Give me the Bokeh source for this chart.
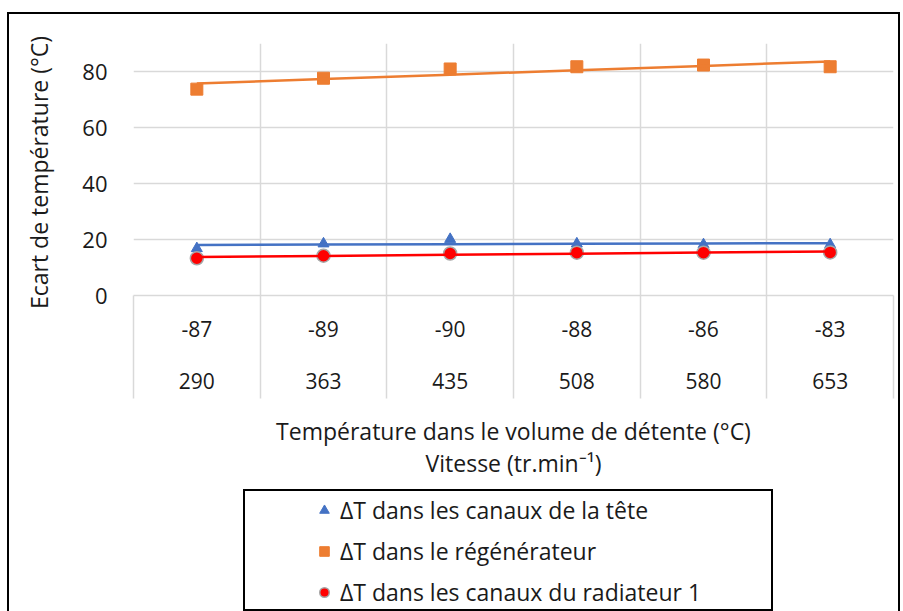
import numpy as np
from bokeh.plotting import figure
from bokeh.layouts import column
from bokeh.models import (Range1d, FixedTicker, LinearAxis, Legend,
                          LegendItem, ColumnDataSource)
from bokeh.embed import file_html
from bokeh.resources import INLINE

# ---- data -------------------------------------------------------------
speeds = ["290", "363", "435", "508", "580", "653"]          # Vitesse (tr.min-1)
temps = ["-87", "-89", "-90", "-88", "-86", "-83"]            # Température volume de détente
dt_tete = [16.8, 18.5, 20.1, 18.5, 18.2, 18.2]
dt_regen = [73.7, 77.6, 80.9, 81.7, 82.3, 81.7]
dt_radiateur = [13.3, 14.2, 15.0, 15.3, 15.3, 15.4]
y_ticks = [0, 20, 40, 60, 80]
y_max = 90
names = ["ΔT dans les canaux de la tête",
         "ΔT dans le régénérateur",
         "ΔT dans les canaux du radiateur 1"]
y_title = "Ecart de température  (°C)"
x_title_1 = "Température dans le volume de détente (°C)"
x_title_2 = "Vitesse (tr.min⁻¹)"

# ---- style --------------------------------------------------------------
FONT = "Open Sans"
TXT = "#1a1a1a"
GRID = "#d9d9d9"
BLUE, ORANGE, RED = "#4472C4", "#ED7D31", "#FF0000"
MARK = {"tete": dict(marker="triangle", size=11, fill_color=BLUE, line_color=BLUE),
        "regen": dict(marker="square", size=12, fill_color=ORANGE, line_color=ORANGE),
        "rad": dict(marker="circle", size=13, fill_color=RED, line_color="#a6a6a6",
                    line_width=1.5)}

n = len(speeds)
idx = np.arange(n)
xs = idx + 0.5
bounds = list(range(n + 1))
src = ColumnDataSource(dict(x=xs, tete=dt_tete, regen=dt_regen, rad=dt_radiateur))

# ================= main chart =================
p = figure(width=903, height=482, output_backend="svg", toolbar_location=None,
           x_range=Range1d(0, n), y_range=Range1d(0, y_max),
           min_border_left=133, min_border_right=10, min_border_top=43,
           min_border_bottom=187)
p.outline_line_color = None
p.background_fill_color = "white"
p.border_fill_alpha = 0

p.xgrid.ticker = FixedTicker(ticks=bounds)
p.ygrid.ticker = FixedTicker(ticks=y_ticks)
for g in (p.xgrid[0], p.ygrid[0]):
    g.grid_line_color = GRID
    g.grid_line_width = 1.5

ya = p.yaxis[0]
ya.ticker = FixedTicker(ticks=y_ticks)
ya.axis_line_color = None
ya.major_tick_line_color = None
ya.minor_tick_line_color = None
ya.major_tick_out = 0
ya.major_label_standoff = 26
ya.major_label_text_font = FONT
ya.major_label_text_font_size = "22px"
ya.major_label_text_color = TXT
ya.axis_label = y_title
ya.axis_label_text_font = FONT
ya.axis_label_text_font_size = "23px"
ya.axis_label_text_font_style = "normal"
ya.axis_label_text_color = TXT
ya.axis_label_standoff = 24

# x axis row 1 (temperatures) with category separators as minor ticks
xa = p.xaxis[0]
xa.ticker = FixedTicker(ticks=list(xs), minor_ticks=bounds)
xa.major_label_overrides = {float(x): t for x, t in zip(xs, temps)}
xa.axis_line_color = GRID
xa.axis_line_width = 1.5
xa.major_tick_line_color = None
xa.major_tick_out = 0
xa.major_tick_in = 0
xa.minor_tick_out = 103
xa.minor_tick_in = 0
xa.minor_tick_line_color = GRID
xa.minor_tick_line_width = 1.5
xa.major_label_standoff = -78
xa.major_label_text_font = FONT
xa.major_label_text_font_size = "21px"
xa.major_label_text_color = TXT

# x axis row 2 (speeds) + two-line axis title
xa2 = LinearAxis(ticker=FixedTicker(ticks=list(xs)))
xa2.major_label_overrides = {float(x): s for x, s in zip(xs, speeds)}
xa2.axis_line_color = None
xa2.major_tick_line_color = None
xa2.minor_tick_line_color = None
xa2.major_tick_out = 0
xa2.major_tick_in = 0
xa2.major_label_standoff = 33
xa2.major_label_text_font = FONT
xa2.major_label_text_font_size = "21px"
xa2.major_label_text_color = TXT
xa2.axis_label = x_title_1 + "\n" + x_title_2
xa2.axis_label_text_font = FONT
xa2.axis_label_text_font_size = "23px"
xa2.axis_label_text_font_style = "normal"
xa2.axis_label_text_color = TXT
xa2.axis_label_text_line_height = 1.02
xa2.axis_label_standoff = 23
p.add_layout(xa2, "below")

p.scatter("x", "regen", source=src, **MARK["regen"])
p.scatter("x", "tete", source=src, **MARK["tete"])
p.scatter("x", "rad", source=src, **MARK["rad"])

# linear trendlines
for ys, col in ((dt_regen, ORANGE), (dt_tete, BLUE), (dt_radiateur, RED)):
    k, b = np.polyfit(idx, ys, 1)
    p.line(xs, k * idx + b, line_color=col, line_width=2.5)

# ================= legend strip =================
q = figure(width=903, height=129, output_backend="svg", toolbar_location=None,
           x_range=Range1d(0, 1), y_range=Range1d(0, 1),
           x_axis_type=None, y_axis_type=None, min_border=0)
q.outline_line_color = None
q.background_fill_alpha = 0
q.border_fill_alpha = 0
q.grid.visible = False
# legend glyph renderers (same series, kept outside the strip's range)
l_tete = q.scatter("x", "tete", source=src, **MARK["tete"])
l_regen = q.scatter("x", "regen", source=src, **MARK["regen"])
l_rad = q.scatter("x", "rad", source=src, **MARK["rad"])
l_none = q.scatter("x", "tete", source=src, alpha=0)

frame_box = Legend(items=[LegendItem(label=" ", renderers=[l_none])],
                   location=(110, 0), padding=0, margin=0, spacing=0,
                   glyph_width=10, glyph_height=118, label_standoff=0,
                   label_width=516, label_height=118,
                   border_line_color="black", border_line_width=2,
                   border_line_alpha=1, background_fill_color="white",
                   background_fill_alpha=1)
q.add_layout(frame_box, "center")

legend = Legend(items=[LegendItem(label=names[0], renderers=[l_tete]),
                       LegendItem(label=names[1], renderers=[l_regen]),
                       LegendItem(label=names[2], renderers=[l_rad])],
                location=(179, 3), padding=0, margin=0, spacing=9,
                glyph_width=24, glyph_height=24, label_standoff=4,
                label_height=28,
                border_line_alpha=0, background_fill_alpha=0,
                label_text_font=FONT, label_text_font_size="23px",
                label_text_color=TXT)
q.add_layout(legend, "center")

layout = column(p, q, spacing=0, styles={
    "background-color": "white",
    "background-image": "linear-gradient(#000,#000),linear-gradient(#000,#000),"
                        "linear-gradient(#000,#000)",
    "background-size": "893px 2px, 2px 640px, 2px 640px",
    "background-position": "7px 12px, 7px 12px, 898px 12px",
    "background-repeat": "no-repeat",
})

open("out.html", "w").write(file_html(layout, INLINE))
